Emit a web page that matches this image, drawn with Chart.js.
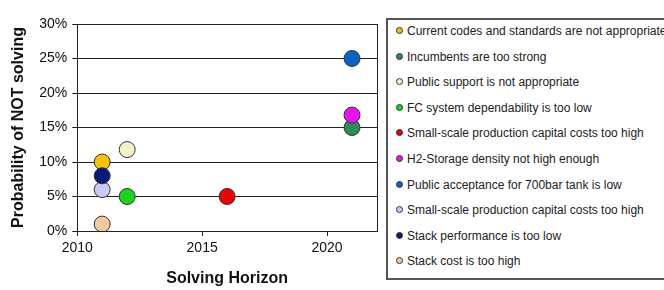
<!DOCTYPE html>
<html>
<head>
<meta charset="utf-8">
<script src="https://cdn.jsdelivr.net/npm/chart.js@4"></script>
<style>
  html, body { margin: 0; padding: 0; background: #fff; overflow: hidden; width: 664px; height: 290px; }
  #wrap { position: absolute; left: 0; top: 0; width: 386px; height: 290px; }
  #legend { position: absolute; left: 386px; top: 18px; width: 300px; height: 262px; border: 2px solid #555; box-sizing: border-box; font-family: "Liberation Sans", Arial, sans-serif; font-size: 12px; color: #222; }
  .item { position: absolute; left: 0; height: 14px; line-height: 14px; white-space: nowrap; }
  .dot { position: absolute; left: 8px; top: 3px; width: 7px; height: 7px; border-radius: 50%; border: 1px solid #333; box-sizing: border-box; }
  .lbl { position: absolute; left: 19px; top: 0; }
</style>
</head>
<body>
<div id="wrap"><canvas id="c" width="386" height="290"></canvas></div>
<div id="legend"></div>
<script>
const categories = [
  "Current codes and standards are not appropriate",
  "Incumbents are too strong",
  "Public support is not appropriate",
  "FC system dependability is too low",
  "Small-scale production capital costs too high",
  "H2-Storage density not high enough",
  "Public acceptance for 700bar tank is low",
  "Small-scale production capital costs too high",
  "Stack performance is too low",
  "Stack cost is too high"
];
const solvingYears = [2011, 2021, 2012, 2012, 2016, 2021, 2021, 2011, 2011, 2011];
const probabilities = [10, 15, 11.8, 5, 5, 16.8, 25, 6, 8, 1];
const colors = ["#F7C200", "#2E8B5C", "#F4F2C8", "#1BD41B", "#F00000", "#EE10EE", "#0A62C8", "#C8CAF2", "#0A1A7A", "#F6C99A"];
const xTickValues = [2010, 2015, 2020];
const yTickValues = [0, 5, 10, 15, 20, 25, 30];

const datasets = categories.map((name, i) => ({
  label: name,
  data: [{ x: solvingYears[i], y: probabilities[i] }],
  backgroundColor: colors[i],
  borderColor: "#333",
  borderWidth: 1,
  pointRadius: 8,
  pointHoverRadius: 8,
  order: categories.length - i
}));

const rightBorder = {
  id: "rightBorder",
  afterDraw(chart) {
    const { ctx, chartArea } = chart;
    ctx.save();
    ctx.strokeStyle = "#222";
    ctx.lineWidth = 1;
    ctx.beginPath();
    ctx.moveTo(Math.round(chartArea.right) + 0.5, chartArea.top);
    ctx.lineTo(Math.round(chartArea.right) + 0.5, chartArea.bottom);
    ctx.stroke();
    ctx.restore();
  }
};

new Chart(document.getElementById("c"), {
  type: "scatter",
  data: { datasets },
  plugins: [rightBorder],
  options: {
    responsive: false,
    animation: false,
    events: [],
    layout: { padding: { left: 9, right: 0, top: 24, bottom: 0 } },
    plugins: { legend: { display: false }, tooltip: { enabled: false } },
    scales: {
      x: {
        type: "linear",
        min: 2010,
        max: 2022,
        afterBuildTicks: (axis) => { axis.ticks = xTickValues.map(v => ({ value: v })); },
        ticks: { color: "#111", font: { family: "Liberation Sans, Arial", size: 14 }, padding: 4, maxRotation: 0, callback: v => String(v) },
        grid: { color: "transparent", tickColor: "#222", drawTicks: true, tickLength: 5 },
        border: { color: "#222", width: 1 },
        title: { display: true, text: "Solving Horizon", color: "#111", font: { family: "Liberation Sans, Arial", size: 16, weight: "bold" }, padding: { top: 8, bottom: 2 } }
      },
      y: {
        min: 0,
        max: 30,
        afterBuildTicks: (axis) => { axis.ticks = yTickValues.map(v => ({ value: v })); },
        ticks: { color: "#111", font: { family: "Liberation Sans, Arial", size: 14 }, padding: 5, callback: v => v + "%" },
        grid: { color: "#222", tickColor: "#222", lineWidth: 1, drawTicks: true, tickLength: 5 },
        border: { color: "#222", width: 1 },
        title: { display: true, text: "Probability of NOT solving", color: "#111", font: { family: "Liberation Sans, Arial", size: 16, weight: "bold" }, padding: { top: 0, bottom: 6 } }
      }
    }
  }
});

const legend = document.getElementById("legend");
categories.forEach((name, i) => {
  const item = document.createElement("div");
  item.className = "item";
  item.style.top = (4 + i * 25.6) + "px";
  const dot = document.createElement("span");
  dot.className = "dot";
  dot.style.background = colors[i];
  const lbl = document.createElement("span");
  lbl.className = "lbl";
  lbl.textContent = name;
  item.appendChild(dot);
  item.appendChild(lbl);
  legend.appendChild(item);
});
</script>
</body>
</html>
